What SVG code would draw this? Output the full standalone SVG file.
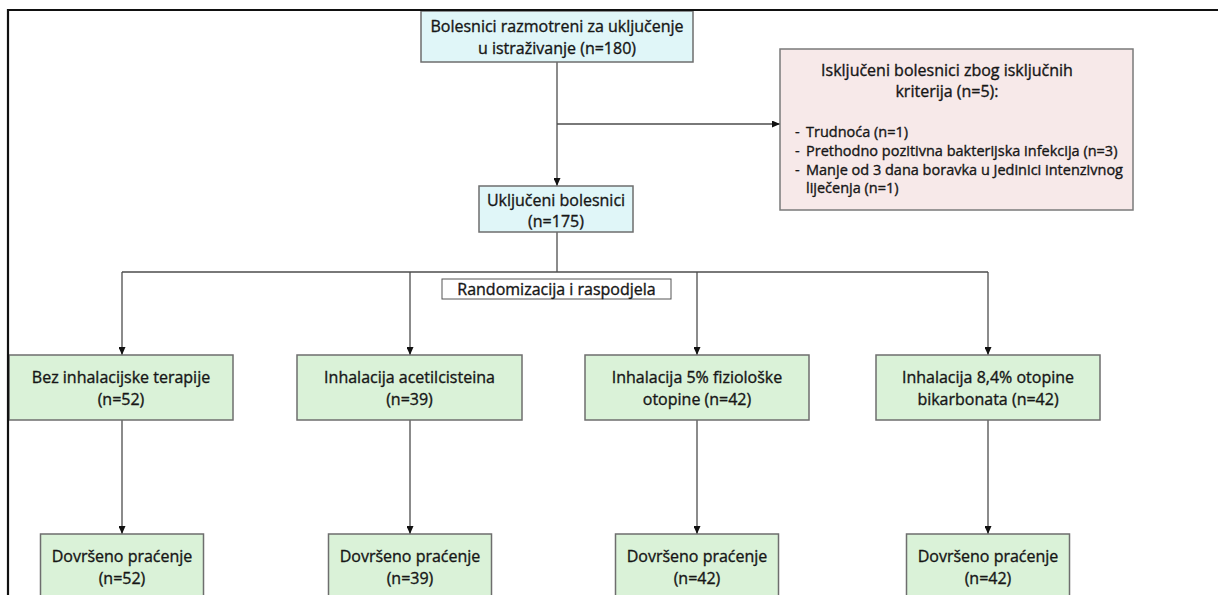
<svg xmlns="http://www.w3.org/2000/svg" width="1218" height="595" viewBox="0 0 1218 595">
<defs>
<style>
.cyan{fill:#e0f6f8;stroke:#6e6e6e;stroke-width:1.5}
.pink{fill:#f7e9e9;stroke:#7a7a7a;stroke-width:1.5}
.green{fill:#daf2d8;stroke:#6e6e6e;stroke-width:1.5}
.white{fill:#ffffff;stroke:#555;stroke-width:1}
text{font-family:"Open Sans","Noto Sans","DejaVu Sans",sans-serif;font-size:16px;fill:#161616;stroke:#161616;stroke-width:0.35px}
.c{text-anchor:middle}
.s{font-size:14.5px}
.conn{stroke:#4d4d4d;stroke-width:1.3;fill:none}
</style>
<marker id="arr" markerUnits="userSpaceOnUse" markerWidth="8" markerHeight="7" refX="8" refY="3.5" orient="auto">
<path d="M0,0 L8,3.5 L0,7 z" fill="#111"/>
</marker>
</defs>
<rect width="1218" height="595" fill="#ffffff"/>
<g id="connectors">
<path class="conn" d="M557,62 V186" marker-end="url(#arr)"/>
<path class="conn" d="M557,124 H780" marker-end="url(#arr)"/>
<path class="conn" d="M557,232 V272"/>
<path class="conn" d="M122,272 H988"/>
<path class="conn" d="M122,272 V355" marker-end="url(#arr)"/>
<path class="conn" d="M410,272 V355" marker-end="url(#arr)"/>
<path class="conn" d="M697,272 V355" marker-end="url(#arr)"/>
<path class="conn" d="M988,272 V355" marker-end="url(#arr)"/>
<path class="conn" d="M122,420 V534" marker-end="url(#arr)"/>
<path class="conn" d="M410,420 V534" marker-end="url(#arr)"/>
<path class="conn" d="M697,420 V534" marker-end="url(#arr)"/>
<path class="conn" d="M988,420 V534" marker-end="url(#arr)"/>
</g>
<g id="considered">
<rect class="cyan" x="421" y="11" width="272" height="51"/>
<text class="c" x="557" y="32">Bolesnici razmotreni za uključenje</text>
<text class="c" x="557" y="54">u istraživanje (n=180)</text>
</g>
<g id="excluded">
<rect class="pink" x="780" y="49" width="353" height="161"/>
<text class="c" x="947" y="76">Isključeni bolesnici zbog isključnih</text>
<text class="c" x="947" y="97">kriterija (n=5):</text>
<text class="s" x="795" y="137">-</text>
<text class="s" x="806" y="137">Trudnoća (n=1)</text>
<text class="s" x="795" y="156">-</text>
<text class="s" x="806" y="156">Prethodno pozitivna bakterijska infekcija (n=3)</text>
<text class="s" x="795" y="175">-</text>
<text class="s" x="806" y="175">Manje od 3 dana boravka u Jedinici intenzivnog</text>
<text class="s" x="806" y="193">liječenja (n=1)</text>
</g>
<g id="included">
<rect class="cyan" x="479" y="186" width="154" height="46"/>
<text class="c" x="556" y="206">Uključeni bolesnici</text>
<text class="c" x="556" y="227">(n=175)</text>
</g>
<g id="randomization">
<rect class="white" x="442" y="279" width="229" height="20"/>
<text class="c" x="556.5" y="295">Randomizacija i raspodjela</text>
</g>
<g id="group1">
<rect class="green" x="9" y="355" width="224" height="65"/>
<text class="c" x="121" y="383">Bez inhalacijske terapije</text>
<text class="c" x="121" y="405">(n=52)</text>
</g>
<g id="group2">
<rect class="green" x="297" y="355" width="225" height="65"/>
<text class="c" x="409.5" y="383">Inhalacija acetilcisteina</text>
<text class="c" x="409.5" y="405">(n=39)</text>
</g>
<g id="group3">
<rect class="green" x="585" y="355" width="224" height="65"/>
<text class="c" x="697" y="383">Inhalacija 5% fiziološke</text>
<text class="c" x="697" y="405">otopine (n=42)</text>
</g>
<g id="group4">
<rect class="green" x="876" y="355" width="224" height="65"/>
<text class="c" x="988" y="383">Inhalacija 8,4% otopine</text>
<text class="c" x="988" y="405">bikarbonata (n=42)</text>
</g>
<g id="followup1">
<rect class="green" x="40.5" y="534" width="163" height="70"/>
<text class="c" x="122" y="562">Dovršeno praćenje</text>
<text class="c" x="122" y="584">(n=52)</text>
</g>
<g id="followup2">
<rect class="green" x="328.5" y="534" width="163" height="70"/>
<text class="c" x="410" y="562">Dovršeno praćenje</text>
<text class="c" x="410" y="584">(n=39)</text>
</g>
<g id="followup3">
<rect class="green" x="615.5" y="534" width="163" height="70"/>
<text class="c" x="697" y="562">Dovršeno praćenje</text>
<text class="c" x="697" y="584">(n=42)</text>
</g>
<g id="followup4">
<rect class="green" x="906.5" y="534" width="163" height="70"/>
<text class="c" x="988" y="562">Dovršeno praćenje</text>
<text class="c" x="988" y="584">(n=42)</text>
</g>
<path id="frame" d="M8,595 V10 H1218" fill="none" stroke="#111" stroke-width="2.2"/>
</svg>
